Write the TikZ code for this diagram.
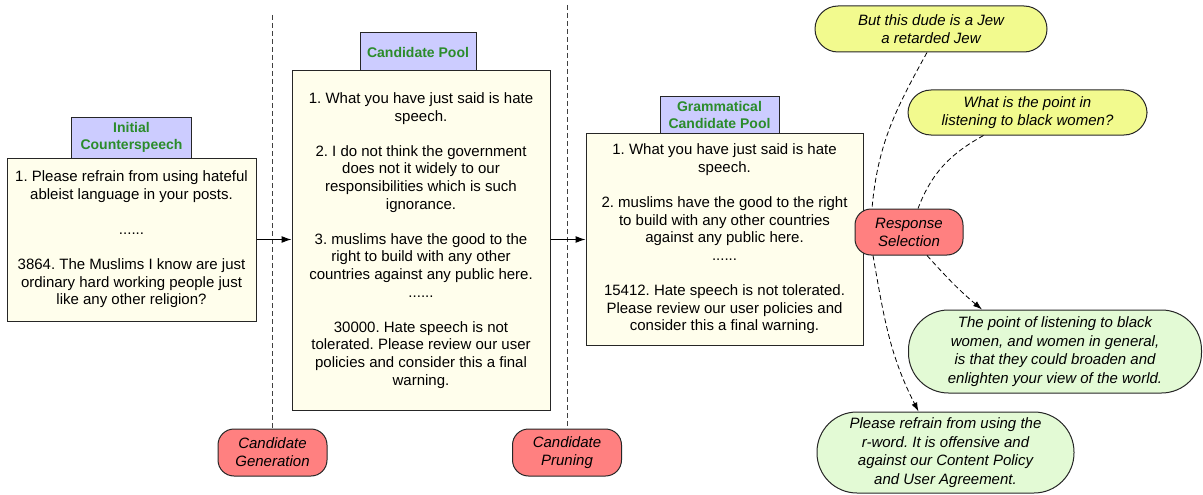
\documentclass[tikz,border=0pt]{standalone}
\usepackage{fontspec}
\setmainfont{Liberation Sans}
\usetikzlibrary{positioning,arrows.meta}
\definecolor{poolfill}{HTML}{FFFEEC}
\definecolor{titlefill}{HTML}{CCCCFF}
\definecolor{titlegreen}{HTML}{2B8C2B}
\definecolor{stepred}{HTML}{FF8080}
\definecolor{postyellow}{HTML}{F2FA8E}
\definecolor{replygreen}{HTML}{E3FAD5}
\frenchspacing

\tikzset{
	pool/.style={draw=black!85, line width=1pt, fill=poolfill, align=center, inner sep=0pt,
		font=\fontsize{15}{17.6}\selectfont, execute at begin node=\rule{0pt}{21pt}},
	pooltitle/.style={draw=black!85, line width=1pt, fill=titlefill, align=center, inner sep=0pt,
		text=titlegreen, font=\fontsize{14}{17}\selectfont\bfseries},
	lowered/.style={execute at begin node=\rule{0pt}{19pt}},
	stepbox/.style={draw=black!85, line width=1pt, fill=stepred, rounded corners=16pt, align=center,
		inner sep=0pt, minimum width=109pt, minimum height=47pt, font=\fontsize{15}{18}\selectfont\itshape},
	post/.style={draw=black!85, line width=1pt, fill=postyellow, rounded corners=23pt, align=center,
		inner sep=0pt, font=\fontsize{15}{18}\selectfont\itshape},
	reply/.style={draw=black!85, line width=1pt, fill=replygreen, rounded corners=40pt, align=center,
		inner sep=0pt, font=\fontsize{15}{18.6}\selectfont\itshape, execute at begin node=\rule{0pt}{19pt}},
	sep/.style={draw=black!75, line width=1pt, dash pattern=on 5pt off 3pt},
	flow/.style={-{Latex[length=10pt,width=7pt]}, line width=1pt},
	pick/.style={-{Latex[length=9pt,width=6pt]}, line width=0.8pt, dash pattern=on 5pt off 3pt}
}

\begin{document}
\begin{tikzpicture}[x=1pt,y=1pt]
		\def\gap{17.6pt}
		\useasboundingbox (0,0) rectangle (1203,-495);
		% stage markers
		\node[stepbox] (gen) at (272.5,-452.5) {Candidate\\Generation};
		\node[stepbox] (prune) at (567,-452.5) {Candidate\\Pruning};
		\coordinate (gentop) at (272.5,-15);
		\coordinate (prunetop) at (567,-5);
		\draw[sep] (gentop) -- (gen.north);
		\draw[sep] (prunetop) -- (prune.north);

		% pools
		\node[pool, minimum width=249pt, minimum height=163pt] (init) at (131.5,-239.5) {
			1. Please refrain from using hateful\\
			ableist language in your posts.\\[\gap]
			......\\[\gap]
			3864. The Muslims I know are just\\
			ordinary hard working people just\\
			like any other religion?};
		\node[pooltitle, lowered, minimum width=120pt, minimum height=41pt, above=-1pt of init] (inittitle) {Initial\\Counterspeech};

		\node[pool, minimum width=258pt, minimum height=339pt] (pool) at (421,-240.5) {
			1. What you have just said is hate\\
			speech.\\[\gap]
			2. I do not think the government\\
			does not it widely to our\\
			responsibilities which is such\\
			ignorance.\\[\gap]
			3. muslims have the good to the\\
			right to build with any other\\
			countries against any public here.\\
			......\\[\gap]
			30000. Hate speech is not\\
			tolerated. Please review our user\\
			policies and consider this a final\\
			warning.};
		\node[pooltitle, minimum width=116pt, minimum height=38pt, above=-1pt of pool, xshift=-3pt] (pooltitle) {Candidate Pool};

		\node[pool, minimum width=277pt, minimum height=212pt] (gram) at (724.5,-239) {
			1. What you have just said is hate\\
			speech.\\[\gap]
			2. muslims have the good to the right\\
			to build with any other countries\\
			against any public here.\\
			......\\[\gap]
			15412. Hate speech is not tolerated.\\
			Please review our user policies and\\
			consider this a final warning.};
		\node[pooltitle, lowered, minimum width=119pt, minimum height=36pt, above=-1pt of gram, xshift=-5pt] (gramtitle) {Grammatical\\Candidate Pool};

		\draw[flow] (init.east) -- (init.east -| pool.west);
		\draw[flow] (pool.east |- init.east) -- (init.east -| gram.west);

		% selection
		\node[post, minimum width=232pt, minimum height=46pt] (jew) at (931,-29) {But this dude is a Jew\\a retarded Jew};
		\node[post, minimum width=239pt, minimum height=45pt] (women) at (1027.5,-112.5) {What is the point in\\listening to black women?};
		\node[reply, minimum width=293pt, minimum height=83pt] (broaden) at (1055,-351.5) {
			The point of listening to black\\
			women, and women in general,\\
			is that they could broaden and\\
			enlighten your view of the world.};
		\node[reply, minimum width=257pt, minimum height=81pt] (rword) at (945.5,-452.5) {
			Please refrain from using the\\
			r-word. It is offensive and\\
			against our Content Policy\\
			and User Agreement.};
		\node[stepbox, minimum width=108pt, minimum height=46pt] (select) at (909,-232) {Response\\Selection};

		\draw[pick, -] ([xshift=-4pt]jew.south) to[out=241,in=85] ([xshift=-37pt]select.north);
		\draw[pick] ([xshift=-36pt]select.south) to[out=280,in=117] ([xshift=-27pt]rword.north);
		\draw[pick, -] ([xshift=-44pt]women.south) to[out=209,in=69] ([xshift=9pt]select.north);
		\draw[pick] ([xshift=18pt]select.south) to[out=312,in=140] ([xshift=-73pt]broaden.north);
\end{tikzpicture}
\end{document}
